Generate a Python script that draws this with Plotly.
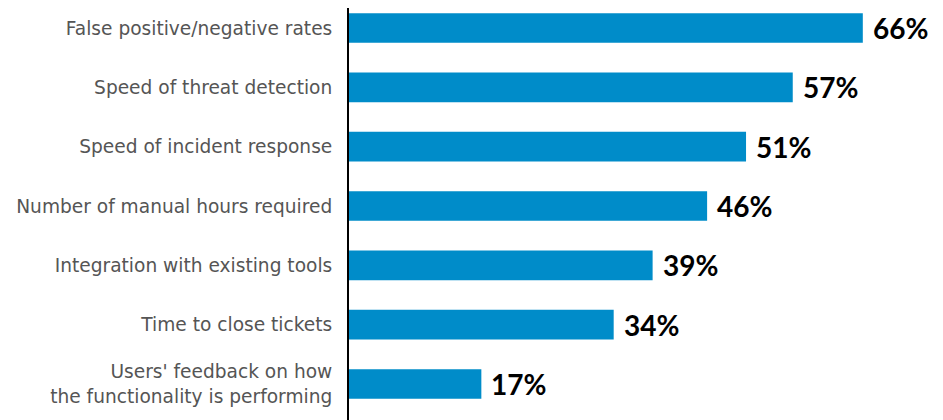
import plotly.graph_objects as go

categories = [
    "False positive/negative rates",
    "Speed of threat detection",
    "Speed of incident response",
    "Number of manual hours required",
    "Integration with existing tools",
    "Time to close tickets",
    "Users' feedback on how<br>the functionality is performing",
]
values = [66, 57, 51, 46, 39, 34, 17]

fig = go.Figure(go.Bar(
    x=values, y=categories, orientation="h",
    marker=dict(color="#008CC9", line=dict(width=0)),
    width=0.5, hoverinfo="skip",
))

for c, v in zip(categories, values):
    fig.add_annotation(x=v, y=c, text=f"<b>{v}%</b>", showarrow=False,
                       xanchor="left", yanchor="middle", xshift=8,
                       font=dict(family="Lato", size=28, color="#000000"))

fig.update_layout(
    width=935, height=412,
    margin=dict(l=341, r=0, t=0, b=0),
    paper_bgcolor="white", plot_bgcolor="white",
    showlegend=False,
    xaxis=dict(range=[0, 76.3], visible=False),
    yaxis=dict(type="category", range=[6.607, -0.337], showline=True,
               linecolor="#000000", linewidth=2, showgrid=False,
               ticks="", ticklabelstandoff=11,
               tickfont=dict(family="DejaVu Sans", size=18.6, color="#555555")),
)

fig.write_html("out.html")
